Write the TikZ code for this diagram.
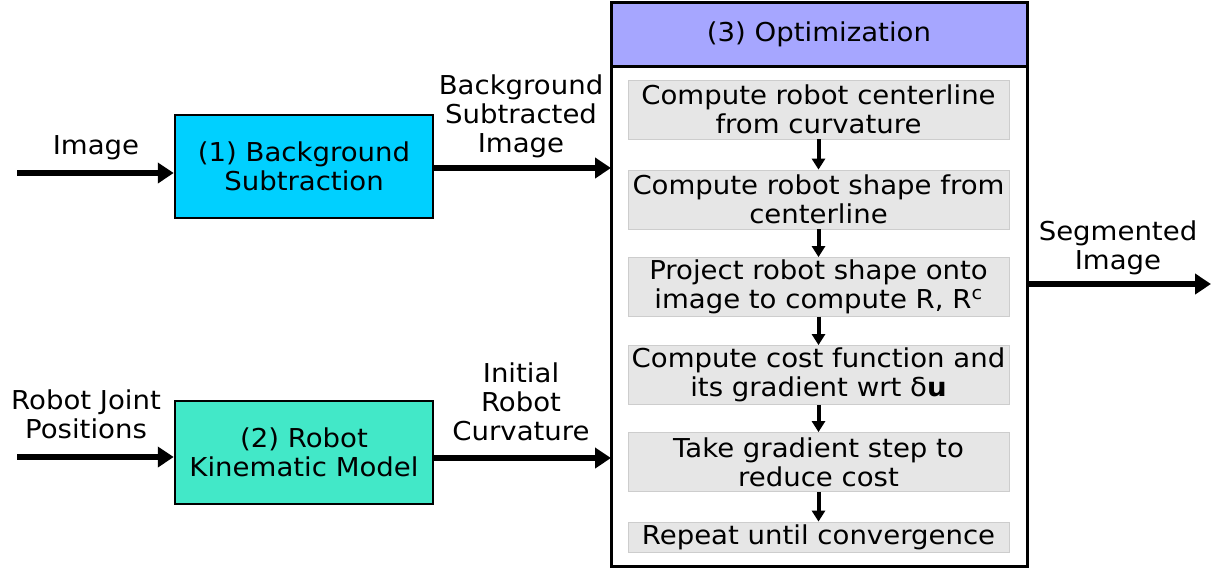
\documentclass[tikz,border=0pt]{standalone}
\usepackage{fontspec}
\setmainfont[FakeStretch=1.06]{DejaVu Sans}
\usetikzlibrary{arrows.meta}
\definecolor{hdr}{RGB}{166,166,255}
\definecolor{cyanbox}{RGB}{0,208,255}
\definecolor{turq}{RGB}{66,232,200}
\definecolor{stepgray}{RGB}{230,230,230}
\definecolor{stepedge}{RGB}{205,205,205}
\begin{document}
\begin{tikzpicture}[x=1pt,y=-1pt,
  every node/.style={font=\fontsize{26}{29}\selectfont, inner sep=0pt, align=center},
  bigarrow/.style={line width=6pt, -{Triangle[length=16pt,width=20pt]}},
  smallarrow/.style={line width=4pt, -{Triangle[length=11pt,width=13pt]}},
  stepbox/.style={fill=stepgray, draw=stepedge, line width=0.8pt, minimum width=381pt, minimum height=59pt},
  procbox/.style={draw=black, line width=2.5pt, minimum width=258pt, minimum height=103pt}]
\useasboundingbox (0,0) rectangle (1222,571);
% optimization box
\fill[hdr] (611,2) rectangle (1027,66);
\draw[line width=3pt] (611,2) rectangle (1027,566);
\draw[line width=3pt] (611,66) -- (1027,66);
\node (opt) at (819,34) {(3) Optimization};
% steps
\node[stepbox] (s1) at (818.5,109.5) {Compute robot centerline\\from curvature};
\node[stepbox] (s2) at (818.5,199.5) {Compute robot shape from\\centerline};
\node[stepbox] (s3) at (818.5,287) {Project robot shape onto\\image to compute R, R\textsuperscript{c}};
\node[stepbox] (s4) at (818.5,375) {Compute cost function and\\its gradient wrt δ\textbf{u}};
\node[stepbox] (s5) at (818.5,462) {Take gradient step to\\reduce cost};
\node[stepbox, minimum height=30pt] (s6) at (818.5,537) {Repeat until convergence};
\draw[smallarrow] (s1.south) -- (s2.north);
\draw[smallarrow] (s2.south) -- (s3.north);
\draw[smallarrow] (s3.south) -- (s4.north);
\draw[smallarrow] (s4.south) -- (s5.north);
\draw[smallarrow] (s5.south) -- (s6.north);
% process boxes
\node[procbox, fill=cyanbox] (b1) at (304,166.5) {(1) Background\\Subtraction};
\node[procbox, fill=turq] (b2) at (304,452.5) {(2) Robot\\Kinematic Model};
% inputs and outputs
\coordinate (in1) at (17,173);
\coordinate (in2) at (17,457);
\coordinate (m1) at (611,168);
\coordinate (m2) at (611,458);
\coordinate (o1) at (1027,284);
\coordinate (out) at (1211,284);
\draw[bigarrow] (in1) -- (in1 -| b1.west);
\draw[bigarrow] (in2) -- (in2 -| b2.west);
\draw[bigarrow] (m1 -| b1.east) -- (m1);
\draw[bigarrow] (m2 -| b2.east) -- (m2);
\draw[bigarrow] (o1) -- (out);
% labels
\node (limg) at (96,148) {Image};
\node (lrj) at (86,414) {Robot Joint\\Positions};
\node (lbs) at (521,116) {Background\\Subtracted\\Image};
\node (lirc) at (521,402) {Initial\\Robot\\Curvature};
\node (lseg) at (1118,248) {Segmented\\Image};
\end{tikzpicture}
\end{document}
